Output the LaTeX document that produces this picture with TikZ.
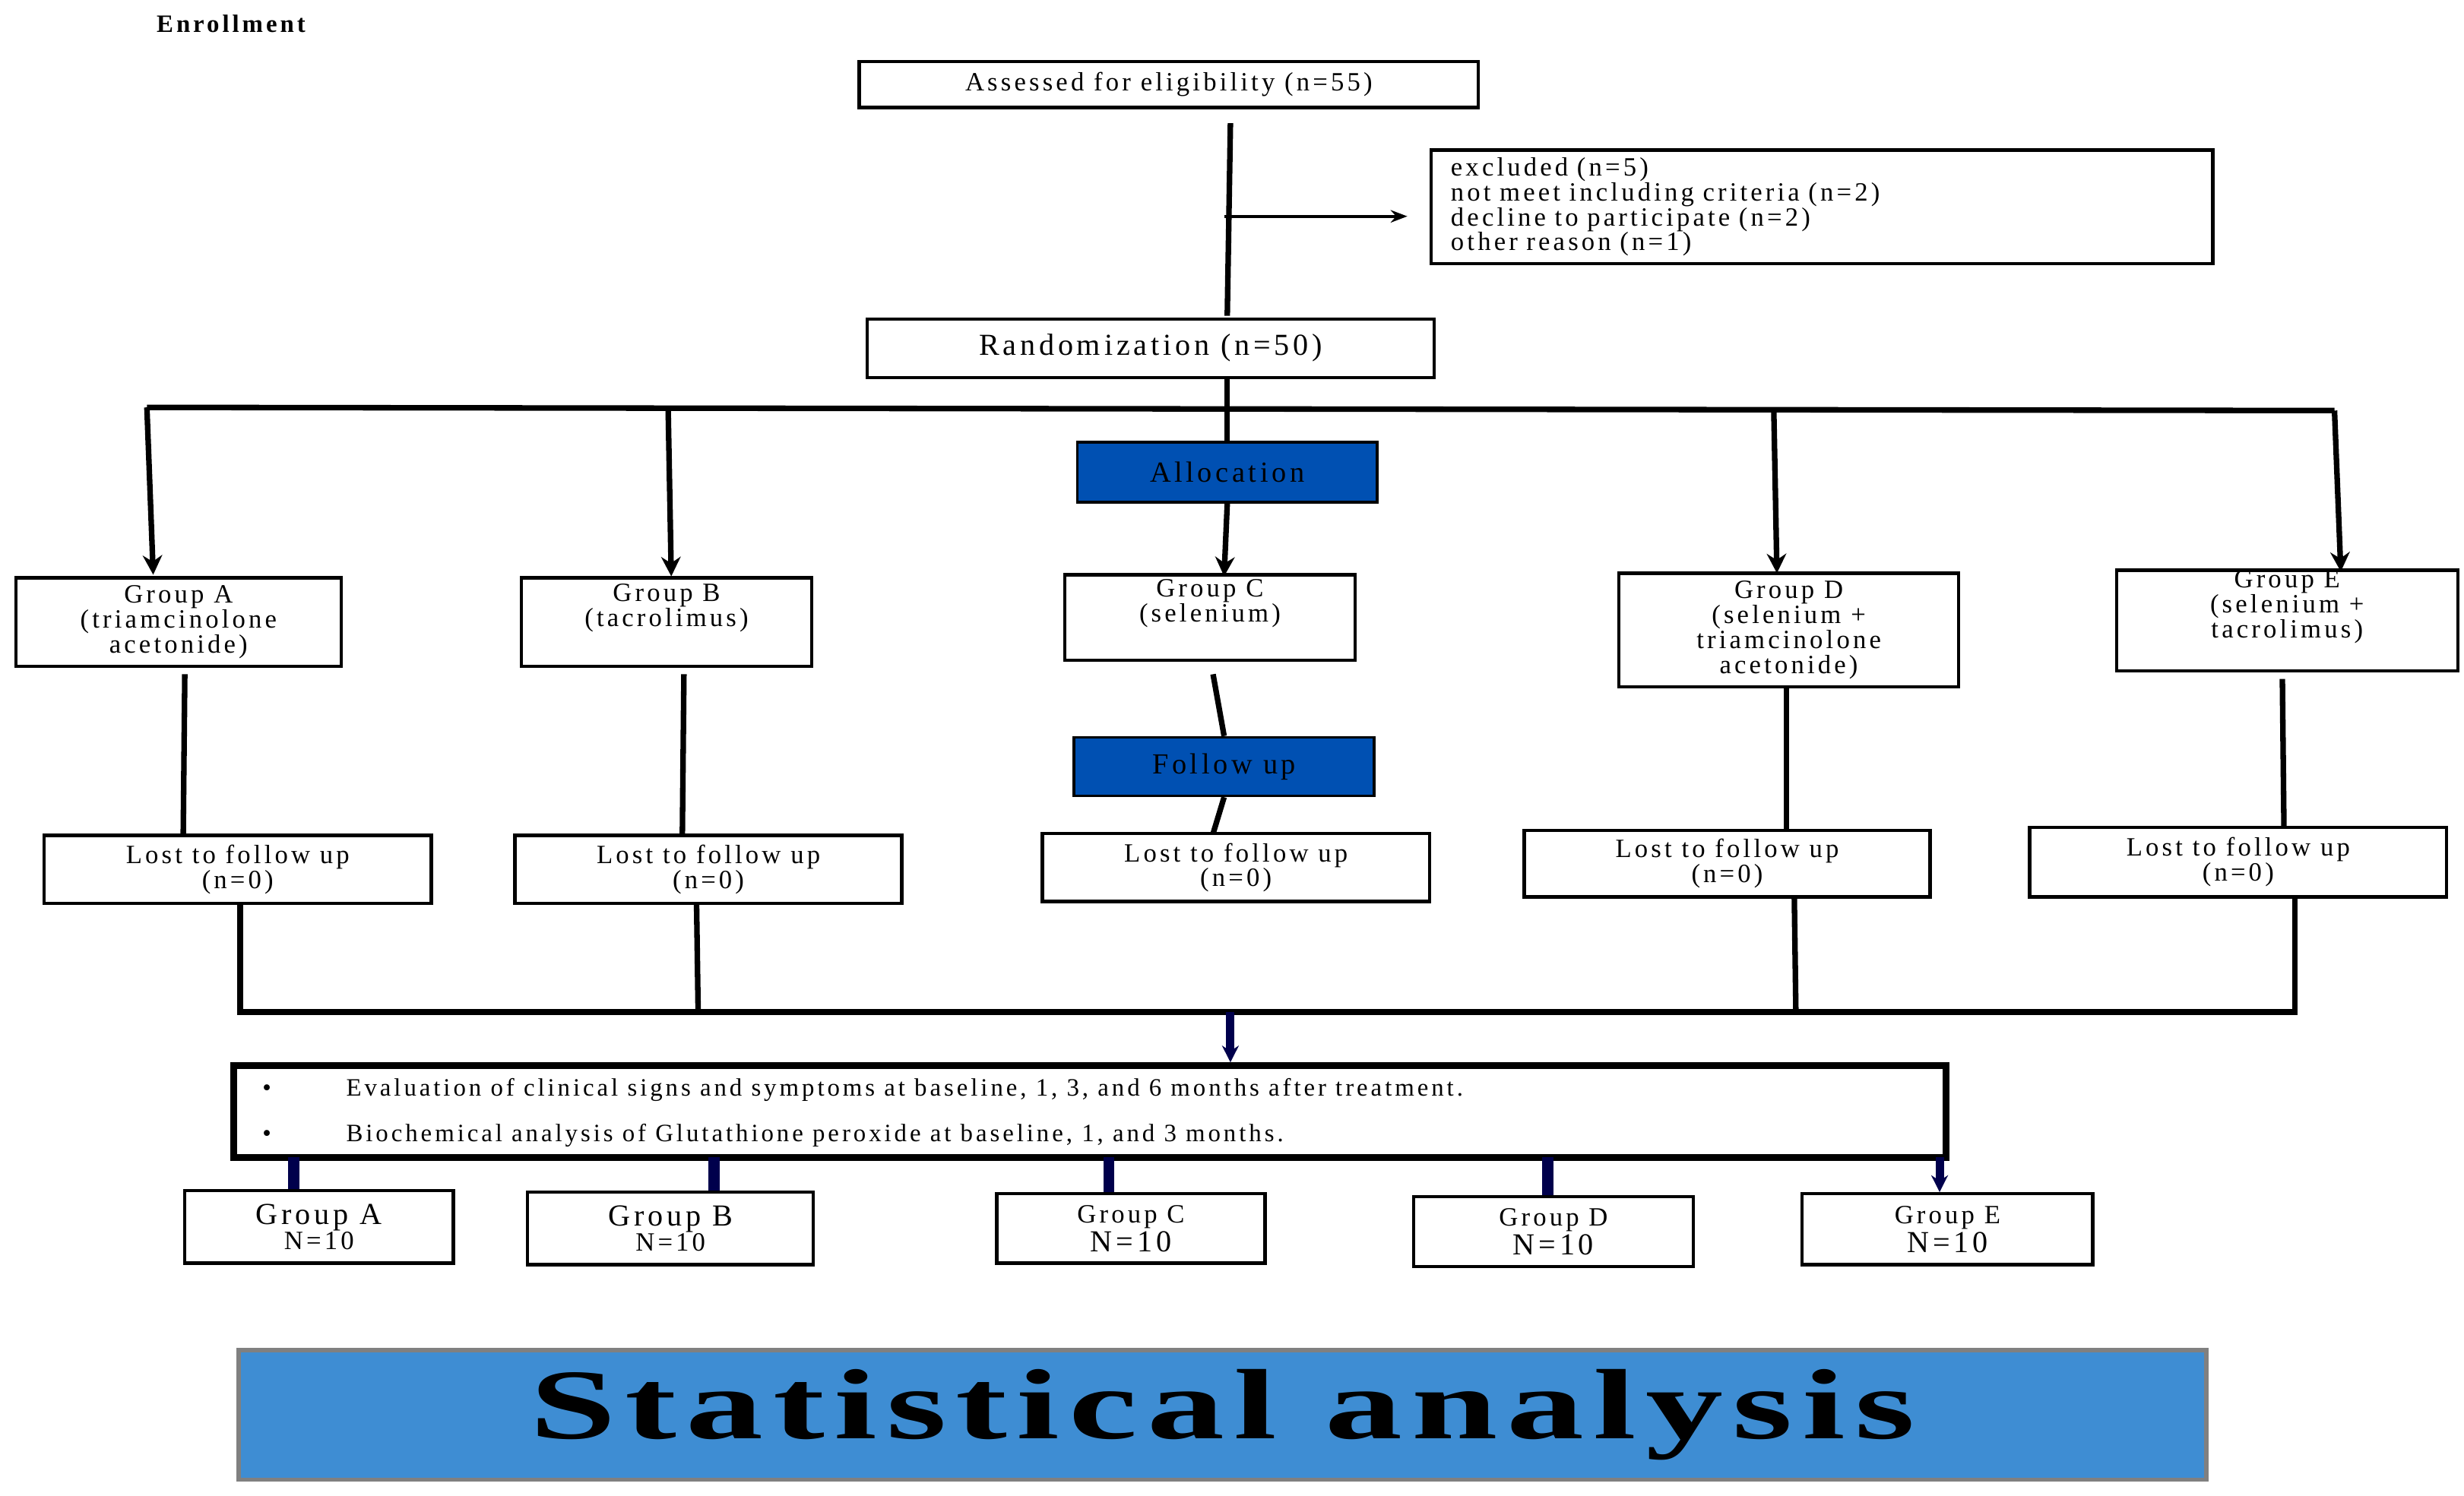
\documentclass[tikz,border=0pt]{standalone}
\usepackage{fontspec}
\setmainfont{Liberation Serif}[LetterSpace=12]
\newfontfamily\bigf{Liberation Serif}[LetterSpace=6]
\usetikzlibrary{arrows.meta}
\begin{document}
\begin{tikzpicture}[x=0.02cm,y=-0.02cm,
 box/.style={draw,line width=1.2pt,inner sep=0pt,align=center,font=\fontsize{9.5}{9}\selectfont},
 blue/.style={draw,line width=1pt,fill=blue!55!cyan!70!black,font=\fontsize{10.5}{11}\selectfont},
 ln/.style={line width=2pt},
 arr/.style={line width=2pt,-{Stealth[length=7pt,width=7pt]}},
 sarr/.style={line width=3pt,draw=blue!30!black,-{Stealth[length=6pt,width=6pt]}}]
\useasboundingbox (0,0) rectangle (1560,947);
\node[font=\bfseries\fontsize{9}{9}\selectfont,anchor=west] (enr) at (93,15) {Enrollment};
\newcommand\bx[6]{\node[box,minimum width=#4*0.02cm-#2*0.02cm,minimum height=#5*0.02cm-#3*0.02cm] (#1) at ({(#2+#4)/2},{(#3+#5)/2}) {#6};}
\bx{ass}{544}{39}{936}{68}{Assessed for eligibility (n=55)}
\node[box,minimum width=9.9cm,minimum height=1.44cm,align=left,text width=9.4cm] (exc) at (1153.5,131) {excluded (n=5)\\not meet including criteria (n=2)\\decline to participate (n=2)\\other reason (n=1)};
\bx{ran}{549}{202}{908}{239}{\fontsize{11}{11}\selectfont Randomization (n=50)}
\draw[ln] (779,78) coordinate(t1) -- (777,200) coordinate(t2);
\coordinate (s) at (775,137); \coordinate (e) at (891,137);
\draw[line width=1.2pt,-{Stealth[length=6pt]}] (s) -- (e);
\node[blue,minimum width=3.8cm,minimum height=0.76cm] (all) at (777,299) {Allocation};
\node[blue,minimum width=3.8cm,minimum height=0.74cm] (fol) at (775,485.5) {Follow up};
\bx{ga}{10}{366}{216}{422}{Group A\\(triamcinolone\\acetonide)}
\bx{gb}{330}{366}{514}{422}{Group B\\(tacrolimus)\\[3pt]}
\bx{gc}{674}{364}{858}{418}{Group C\\(selenium)\\[3pt]}
\bx{gd}{1025}{363}{1240}{435}{Group D\\(selenium +\\triamcinolone\\acetonide)}
\bx{ge}{1340}{362}{1556}{424}{Group E\\(selenium +\\tacrolimus)\\[3pt]}
\draw[ln] (93,258) -- (1478,260);
\draw[arr] (93,258) -- (97,364);
\draw[arr] (423,258) -- (425,365);
\draw[ln] (777,239) -- (all.north);
\draw[arr] (all.south) -- (775,365);
\draw[arr] (1123,259) -- (1125,363);
\draw[arr] (1478,260) -- (1482,362);
\bx{la}{28}{529}{273}{572}{Lost to follow up\\(n=0)}
\bx{lb}{326}{529}{571}{572}{Lost to follow up\\(n=0)}
\bx{lc}{660}{528}{905}{571}{Lost to follow up\\(n=0)}
\bx{ld}{965}{526}{1222}{568}{Lost to follow up\\(n=0)}
\bx{le}{1285}{524}{1549}{568}{Lost to follow up\\(n=0)}
\draw[ln] (117,427) -- (116,529);
\draw[ln] (433,427) -- (432,529);
\draw[ln] (768,427) -- (fol.north); \draw[ln] (fol.south) -- (768,528);
\draw[ln] (1131,435) -- (1131,526);
\draw[ln] (1445,430) -- (1446,524);
\draw[ln] (152,572) -- (152,641) -- (1453,641) -- (1453,568);
\draw[ln] (441,572) -- (442,641);
\draw[ln] (1136,568) -- (1137,641);
\node[draw,line width=2.5pt,minimum width=21.68cm,minimum height=1.16cm,inner sep=0pt] (ev) at (690,704) {};
\node[anchor=west,font=\fontsize{9}{9}\selectfont] at (160,690) {\textbullet\hspace{3em}Evaluation of clinical signs and symptoms at baseline, 1, 3, and 6 months after treatment.};
\node[anchor=west,font=\fontsize{9}{9}\selectfont] at (160,719) {\textbullet\hspace{3em}Biochemical analysis of Glutathione peroxide at baseline, 1, and 3 months.};
\draw[sarr] (779,641) -- (ev.north -| 779,0);
\bx{ba}{117}{754}{287}{800}{\fontsize{11}{10}\selectfont Group A\\N=10}
\bx{bb}{334}{755}{515}{801}{\fontsize{11}{10}\selectfont Group B\\N=10}
\bx{bc}{631}{756}{801}{800}{Group C\\\fontsize{11}{10}\selectfont N=10}
\bx{bd}{895}{758}{1072}{802}{Group D\\\fontsize{11}{10}\selectfont N=10}
\bx{be}{1141}{756}{1325}{801}{Group E\\\fontsize{11}{10}\selectfont N=10}
\foreach \xx/\n in {186/ba,452/bb,702/bc,980/bd}{\draw[line width=4pt,draw=blue!30!black] (\xx,733) -- (\n.north -| \xx,0);}
\draw[sarr] (1228,733) -- (be.north -| 1228,0);
\node[draw=gray,line width=1.5pt,fill=cyan!60!blue!80!white,minimum width=24.92cm,minimum height=1.64cm] (st) at (774,896) {\scalebox{1.55}[1]{\bigf\bfseries\fontsize{36}{36}\selectfont Statistical analysis}};
\end{tikzpicture}
\end{document}
